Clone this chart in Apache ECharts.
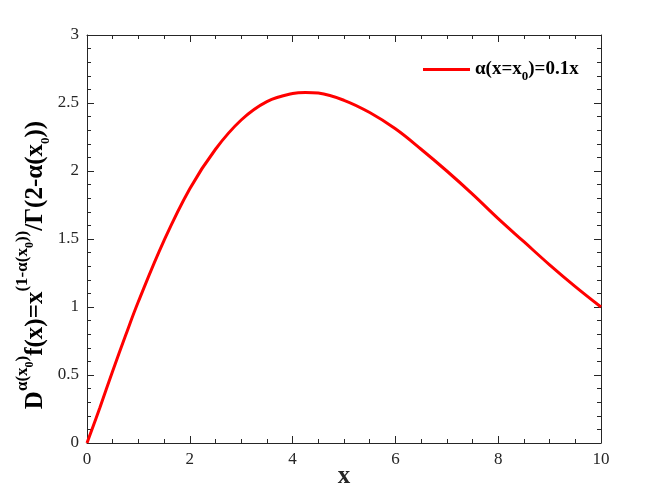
<!DOCTYPE html>
<html>
<head>
<meta charset="utf-8">
<script src="https://cdn.jsdelivr.net/npm/echarts@6/dist/echarts.min.js"></script>
<style>
  html, body { margin: 0; padding: 0; background: #fff; }
  #chart { width: 664px; height: 498px; }
</style>
</head>
<body>
<div id="chart"></div>
<script>
// values
const xValues = [0, 0.25, 0.5, 0.75, 1, 1.5, 2, 2.5, 3, 3.5, 4, 4.25, 4.5, 5, 5.5, 6, 6.5, 7, 7.5, 8, 8.5, 9, 9.5, 10];
const yValues = [0, 0.26, 0.53, 0.79, 1.04, 1.49, 1.87, 2.16, 2.375, 2.51, 2.57, 2.578, 2.573, 2.52, 2.43, 2.31, 2.16, 2.0, 1.83, 1.65, 1.48, 1.31, 1.15, 1.0];
const seriesName = "alpha";

const font = "Liberation Serif";
const axisColor = "#262626";

const chart = echarts.init(document.getElementById("chart"));

const baseX = {
  type: "value",
  min: 0,
  max: 10,
  interval: 2,
  splitLine: { show: false },
  axisLine: { show: true, onZero: false, lineStyle: { color: axisColor, width: 1 } },
  axisTick: { inside: true, length: 7, lineStyle: { color: axisColor } },
  minorTick: { show: true, splitNumber: 4, length: 4, lineStyle: { color: axisColor } },
};
const baseY = {
  type: "value",
  min: 0,
  max: 3,
  interval: 0.5,
  splitLine: { show: false },
  axisLine: { show: true, onZero: false, lineStyle: { color: axisColor, width: 1 } },
  axisTick: { inside: true, length: 7, lineStyle: { color: axisColor } },
  minorTick: { show: true, splitNumber: 5, length: 4, lineStyle: { color: axisColor } },
};

chart.setOption({
  animation: false,
  backgroundColor: "#fff",
  grid: { left: 87, right: 63, top: 35, bottom: 55, outerBoundsMode: "none", containLabel: false },
  xAxis: [
    Object.assign({}, baseX, {
      position: "bottom",
      axisLabel: { color: axisColor, fontFamily: font, fontSize: 17, margin: 8 },
      name: "x",
      nameLocation: "middle",
      nameGap: 21,
      nameMoveOverlap: false,
      nameTextStyle: { color: axisColor, fontFamily: font, fontSize: 25, fontWeight: "bold" },
    }),
    Object.assign({}, baseX, { position: "top", axisLabel: { show: false } }),
  ],
  yAxis: [
    Object.assign({}, baseY, {
      position: "left",
      axisLabel: { color: axisColor, fontFamily: font, fontSize: 17, margin: 8 },
    }),
    Object.assign({}, baseY, { position: "right", axisLabel: { show: false } }),
  ],
  legend: {
    left: 418,
    top: 55,
    icon: "rect",
    itemWidth: 47,
    itemHeight: 3,
    itemGap: 6,
    data: [seriesName],
    formatter: () => "{b|α(x=x}{s|0}{b|)=0.1x}",
    textStyle: {
      rich: {
        b: { fontFamily: font, fontSize: 19, fontWeight: "bold", color: "#000", verticalAlign: "middle", lineHeight: 28 },
        s: { fontFamily: font, fontSize: 13, fontWeight: "bold", color: "#000", verticalAlign: "bottom" },
      },
    },
  },
  graphic: [
    {
      type: "text",
      x: 36,
      y: 265,
      rotation: Math.PI / 2,
      style: {
        text: "{n|D}{sp|α(x}{ss|0}{sp|)}{n|f(x)=x}{sp|(1-α(x}{ss|0}{sp|))}{n|/Γ(2-α(x}{sb|0}{n|))}",
        align: "center",
        verticalAlign: "middle",
        rich: {
          n: { fontFamily: font, fontSize: 25, fontWeight: "bold", fill: "#000", verticalAlign: "middle", lineHeight: 44 },
          sp: { fontFamily: font, fontSize: 17, fontWeight: "bold", fill: "#000", verticalAlign: "top" },
          ss: { fontFamily: font, fontSize: 12, fontWeight: "bold", fill: "#000", verticalAlign: "top", padding: [10, 0, 0, 0] },
          sb: { fontFamily: font, fontSize: 13, fontWeight: "bold", fill: "#000", verticalAlign: "bottom", padding: [0, 0, 6, 0] },
        },
      },
    },
  ],
  series: [
    {
      name: seriesName,
      type: "line",
      data: xValues.map((x, i) => [x, yValues[i]]),
      smooth: 0.4,
      showSymbol: false,
      symbol: "none",
      lineStyle: { color: "#ff0000", width: 3 },
      itemStyle: { color: "#ff0000" },
    },
  ],
});
</script>
</body>
</html>
